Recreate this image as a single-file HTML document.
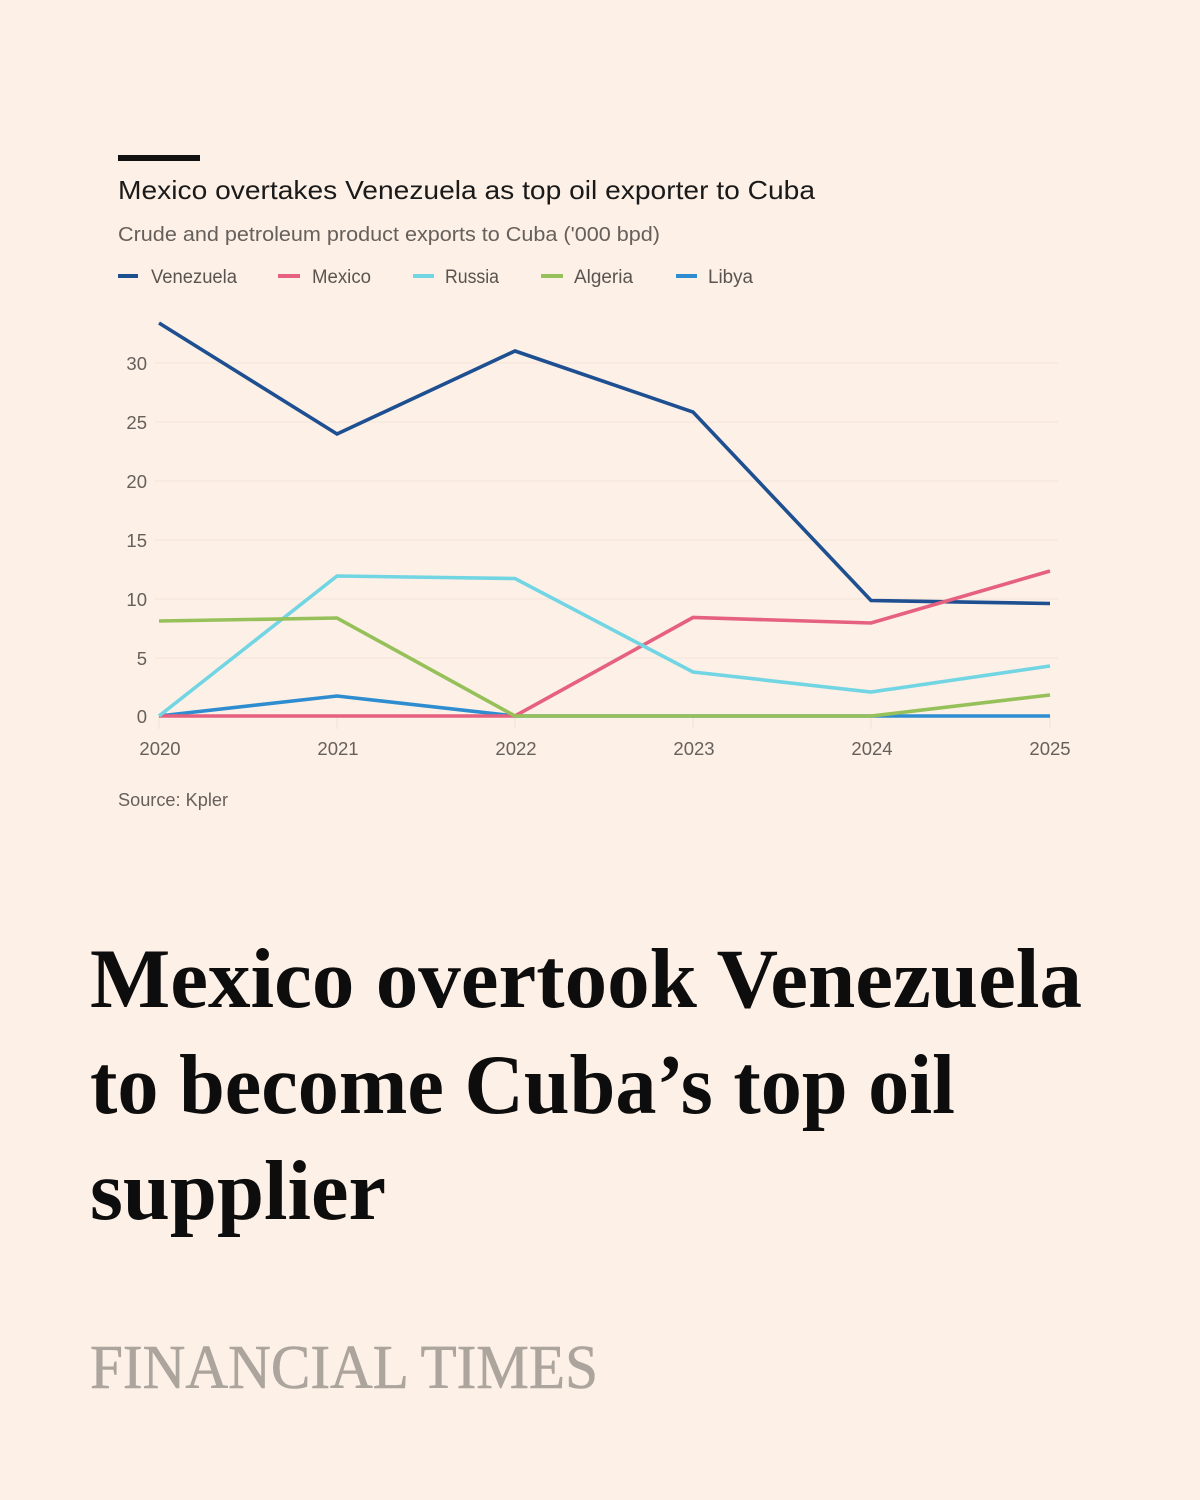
<!DOCTYPE html>
<html>
<head>
<meta charset="utf-8">
<style>
html,body{margin:0;padding:0;background:#FDF0E6;}
svg{display:block;}
</style>
</head>
<body>
<svg width="1200" height="1500" viewBox="0 0 1200 1500" xmlns="http://www.w3.org/2000/svg">
<rect x="0" y="0" width="1200" height="1500" fill="#FDF0E6"/>

<!-- top bar -->
<rect x="118" y="155" width="82" height="6" fill="#111"/>

<!-- title -->
<text x="118" y="199" font-family="Liberation Sans, sans-serif" font-size="26" fill="#1a1a1a" textLength="697" lengthAdjust="spacingAndGlyphs">Mexico overtakes Venezuela as top oil exporter to Cuba</text>
<text x="118" y="241" font-family="Liberation Sans, sans-serif" font-size="20" fill="#66605c" textLength="542" lengthAdjust="spacingAndGlyphs">Crude and petroleum product exports to Cuba ('000 bpd)</text>

<!-- legend -->
<g font-family="Liberation Sans, sans-serif" font-size="19" fill="#5a5450">
  <line x1="118" y1="276" x2="138" y2="276" stroke="#1d4f91" stroke-width="4"/>
  <text x="151" y="283" textLength="86" lengthAdjust="spacingAndGlyphs">Venezuela</text>
  <line x1="278" y1="276" x2="300" y2="276" stroke="#e5617f" stroke-width="4"/>
  <text x="312" y="283" textLength="59" lengthAdjust="spacingAndGlyphs">Mexico</text>
  <line x1="413" y1="276" x2="434" y2="276" stroke="#72d5e3" stroke-width="4"/>
  <text x="445" y="283" textLength="54" lengthAdjust="spacingAndGlyphs">Russia</text>
  <line x1="541" y1="276" x2="563" y2="276" stroke="#96c05a" stroke-width="4"/>
  <text x="574" y="283" textLength="59" lengthAdjust="spacingAndGlyphs">Algeria</text>
  <line x1="676" y1="276" x2="697" y2="276" stroke="#2e8dd0" stroke-width="4"/>
  <text x="708" y="283" textLength="45" lengthAdjust="spacingAndGlyphs">Libya</text>
</g>

<!-- gridlines -->
<g stroke="#f5e7da" stroke-width="1.2">
  <line x1="155" y1="363" x2="1058" y2="363"/>
  <line x1="155" y1="422" x2="1058" y2="422"/>
  <line x1="155" y1="481" x2="1058" y2="481"/>
  <line x1="155" y1="540" x2="1058" y2="540"/>
  <line x1="155" y1="599" x2="1058" y2="599"/>
  <line x1="155" y1="658" x2="1058" y2="658"/>
</g>
<g stroke="#efe2d5" stroke-width="1">
  <line x1="159" y1="716" x2="159" y2="729"/>
  <line x1="337" y1="716" x2="337" y2="729"/>
  <line x1="515" y1="716" x2="515" y2="729"/>
  <line x1="693" y1="716" x2="693" y2="729"/>
  <line x1="871" y1="716" x2="871" y2="729"/>
  <line x1="1050" y1="716" x2="1050" y2="729"/>
</g>

<!-- y labels -->
<g font-family="Liberation Sans, sans-serif" font-size="18.5" fill="#66605c" text-anchor="end">
  <text x="147" y="370">30</text>
  <text x="147" y="429">25</text>
  <text x="147" y="488">20</text>
  <text x="147" y="547">15</text>
  <text x="147" y="606">10</text>
  <text x="147" y="665">5</text>
  <text x="147" y="723">0</text>
</g>

<!-- x labels -->
<g font-family="Liberation Sans, sans-serif" font-size="18.5" fill="#66605c" text-anchor="middle">
  <text x="160" y="755">2020</text>
  <text x="338" y="755">2021</text>
  <text x="516" y="755">2022</text>
  <text x="694" y="755">2023</text>
  <text x="872" y="755">2024</text>
  <text x="1050" y="755">2025</text>
</g>

<!-- series -->
<g fill="none" stroke-width="3.6" stroke-linejoin="miter">
  <polyline stroke="#2e8dd0" points="159,716 337,696 515,716 693,716 871,716 1050,716"/>
  <polyline stroke="#1d4f91" points="159,323 337,434 515,351 693,412 871,600.5 1050,603.5"/>
  <polyline stroke="#e5617f" points="159,716 337,716 515,716 693,617.5 871,623 1050,571"/>
  <polyline stroke="#72d5e3" points="159,716 337,576 515,578.5 693,672 871,692 1050,666"/>
  <polyline stroke="#96c05a" points="159,621 337,618 515,716 693,716 871,716 1050,695"/>
</g>

<!-- source -->
<text x="118" y="806" font-family="Liberation Sans, sans-serif" font-size="18" fill="#66605c" textLength="110" lengthAdjust="spacingAndGlyphs">Source: Kpler</text>

<!-- headline -->
<g font-family="Liberation Serif, serif" font-weight="bold" font-size="85" fill="#0d0d0d">
  <text x="90" y="1007" textLength="992" lengthAdjust="spacingAndGlyphs">Mexico overtook Venezuela</text>
  <text x="90" y="1113" textLength="865" lengthAdjust="spacingAndGlyphs">to become Cuba’s top oil</text>
  <text x="90" y="1219" textLength="296" lengthAdjust="spacingAndGlyphs">supplier</text>
</g>

<!-- FT logo -->
<text x="90" y="1388" font-family="Liberation Serif, serif" font-size="62" fill="#aca59e" stroke="#aca59e" stroke-width="0.6" textLength="508" lengthAdjust="spacingAndGlyphs">FINANCIAL TIMES</text>
</svg>
</body>
</html>
